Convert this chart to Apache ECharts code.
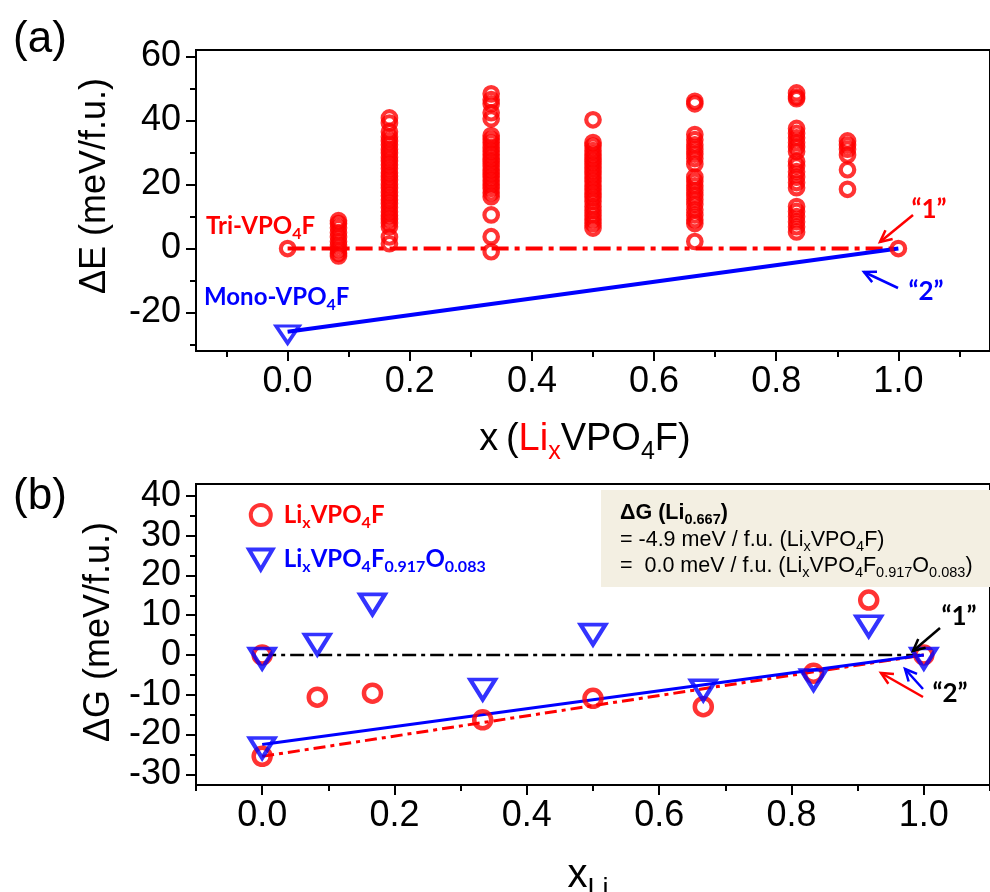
<!DOCTYPE html>
<html>
<head>
<meta charset="utf-8">
<script src="https://cdn.jsdelivr.net/npm/echarts@6/dist/echarts.min.js"></script>
<style>
html,body{margin:0;padding:0;background:#fff;}
#chart{width:990px;height:892px;}
</style>
</head>
<body>
<div id="chart"></div>
<script>
// ---------- Panel (a): ΔE of Tri-VPO4F configurations ----------
const colX = [0, 0.0833, 0.1667, 0.3333, 0.5, 0.6667, 0.8333, 0.9167, 1.0];
const eCol0 = [0];
const eCol1 = [8.7, 7.8, 6.5, 5.0, 3.6, 2.2, 1.0, -0.3, -1.5, -2.3];
const eCol2 = [40.8, 39.2, 36.5, 34.9, 33.6, 32.4, 31.0, 29.8, 28.5, 27.3, 26.2, 25.0, 23.7, 22.6, 21.4, 20.1, 18.9, 17.6, 16.5, 15.2, 14.1, 12.8, 11.5, 10.3, 9.2, 8.0, 6.8, 3.6, 1.5];
const eCol3 = [48.3, 46.5, 45.2, 42.4, 40.5, 35.3, 34.1, 33.0, 31.6, 30.4, 29.3, 28.1, 27.0, 25.8, 24.6, 23.5, 22.3, 21.2, 20.0, 18.8, 17.4, 16.2, 10.5, 3.7, -1.0];
const eCol4 = [40.2, 33.1, 32.0, 30.6, 29.4, 28.2, 27.0, 25.8, 24.5, 23.3, 22.1, 20.9, 19.6, 18.4, 17.2, 16.0, 14.7, 13.1, 11.8, 10.4, 9.1, 7.8, 6.4];
const eCol5 = [46.0, 45.2, 35.6, 34.0, 32.4, 31.0, 29.5, 28.1, 26.4, 22.3, 21.0, 19.6, 18.2, 16.7, 15.3, 13.8, 12.1, 10.5, 9.0, 7.8, 2.2];
const eCol6 = [48.6, 47.3, 46.8, 37.5, 36.0, 34.6, 33.1, 31.7, 30.3, 27.2, 25.8, 24.0, 22.3, 20.6, 19.0, 13.1, 11.6, 10.0, 8.4, 6.8, 5.2];
const eCol7 = [33.6, 32.3, 31.0, 29.2, 24.6, 18.5];
const eCol8 = [0];
const triLineA = [[0, 0], [1.0, 0]];
const monoPointA = [[0, -26]];
const monoLineA = [[0, -26], [1.0, 0]];

// ---------- Panel (b): ΔG ----------
const liX = [0, 0, 0.0833, 0.1667, 0.3333, 0.5, 0.6667, 0.8333, 0.9167, 1.0];
const liG = [0, -25.5, -10.6, -9.6, -16.3, -10.9, -13.0, -4.6, 13.8, 0];
const ofX = [0, 0, 0.0833, 0.1667, 0.3333, 0.5, 0.6667, 0.8333, 0.9167, 1.0];
const ofG = [0, -22.5, 3.5, 13.6, -7.8, 6.0, -8.0, -5.4, 8.1, 0];
const zeroLineB = [[0, 0], [1.0, 0]];
const liHullB = [[0, -25.5], [1.0, 0]];
const ofHullB = [[0, -22.5], [1.0, 0]];

// ---------- Tick values ----------
const xMajorA = [0, 0.2, 0.4, 0.6, 0.8, 1.0];
const xMinorA = [-0.1, 0.1, 0.3, 0.5, 0.7, 0.9, 1.1];
const yMajorA = [-20, 0, 20, 40, 60];
const yMinorA = [-30, -10, 10, 30, 50];
const xMajorB = [0, 0.2, 0.4, 0.6, 0.8, 1.0];
const xMinorB = [-0.1, 0.1, 0.3, 0.5, 0.7, 0.9, 1.1];
const yMajorB = [-30, -20, -10, 0, 10, 20, 30, 40];
const yMinorB = [-25, -15, -5, 5, 15, 25, 35];

const FONT = 'Liberation Sans, Arial, sans-serif';
const BFONT = 'Lato, Open Sans, sans-serif';
const RED = '#ff0000', BLUE = '#0000ff';
const TRI_DOWN = 'path://M0,0L20,0L10,17Z';

function pairs(x, arr) { return arr.map(v => [x, v]); }
const triPtsA = [].concat(
  pairs(colX[0], eCol0), pairs(colX[1], eCol1), pairs(colX[2], eCol2),
  pairs(colX[3], eCol3), pairs(colX[4], eCol4), pairs(colX[5], eCol5),
  pairs(colX[6], eCol6), pairs(colX[7], eCol7), pairs(colX[8], eCol8));
const liPtsB = liX.map((x, i) => [x, liG[i]]);
const ofPtsB = ofX.map((x, i) => [x, ofG[i]]);

const axLine = { show: true, onZero: false, lineStyle: { color: '#000', width: 2 } };
function mainAxis(gridIndex, min, max, majors, pos, fmt, margin) {
  return {
    type: 'value', gridIndex, min, max, position: pos,
    axisLine: axLine,
    axisTick: { show: true, inside: false, length: 10, customValues: majors, lineStyle: { color: '#000', width: 2 } },
    axisLabel: { show: true, customValues: majors, formatter: fmt, margin, color: '#000', fontSize: 36, fontFamily: FONT },
    splitLine: { show: false }
  };
}
function minorAxis(gridIndex, min, max, minors, pos) {
  return {
    type: 'value', gridIndex, min, max, position: pos,
    axisLine: { show: false, onZero: false },
    axisTick: { show: true, inside: false, length: 6, customValues: minors, lineStyle: { color: '#000', width: 2 } },
    axisLabel: { show: false },
    splitLine: { show: false }
  };
}
const fx = v => v.toFixed(1);
const fy = v => String(Math.round(v));

function arrow(x1, y1, x2, y2, color, lw) {
  const ang = Math.atan2(y2 - y1, x2 - x1), L = 13, a = 0.45;
  const p1 = [x2 - L * Math.cos(ang - a), y2 - L * Math.sin(ang - a)];
  const p2 = [x2 - L * Math.cos(ang + a), y2 - L * Math.sin(ang + a)];
  return [
    { type: 'polyline', z: 100, shape: { points: [[x1, y1], [x2, y2]] }, style: { stroke: color, lineWidth: lw, fill: null } },
    { type: 'polyline', z: 100, shape: { points: [p1, [x2, y2], p2] }, style: { stroke: color, lineWidth: lw, fill: null } }
  ];
}
function subRich(color, size, font, weight) {
  return { fill: color, fontSize: size, fontFamily: font, fontWeight: weight, lineHeight: size, verticalAlign: 'bottom' };
}
function mainRich(color, size, font, weight, lh) {
  return { fill: color, fontSize: size, fontFamily: font, fontWeight: weight, lineHeight: lh };
}
function label(x, y, text, rich, align, extra) {
  return Object.assign({ type: 'text', z: 100, x, y, style: { text, rich, align: align || 'left', verticalAlign: 'middle' } }, extra || {});
}

const boldRichRed = { m: mainRich(RED, 24, BFONT, 'bold', 31), s: subRich(RED, 16, BFONT, 'bold') };
const boldRichBlue = { m: mainRich(BLUE, 24, BFONT, 'bold', 31), s: subRich(BLUE, 16, BFONT, 'bold') };
const boxRich = { m: mainRich('#000', 21.5, FONT, 'normal', 28), mb: mainRich('#000', 21.5, FONT, 'bold', 28), s: subRich('#000', 14.5, FONT, 'normal'), sb: subRich('#000', 14.5, FONT, 'bold') };
const titleRich = {
  k: mainRich('#000', 38, FONT, 'normal', 49), r: mainRich(RED, 38, FONT, 'normal', 49),
  ks: subRich('#000', 25, FONT, 'normal'), rs: subRich(RED, 25, FONT, 'normal')
};
const titleRichB = { k: mainRich('#000', 40, FONT, 'normal', 54), ks: subRich('#000', 27, FONT, 'normal') };

const graphics = [].concat(
  [
    { type: 'rect', z: 5, shape: { x: 601, y: 490, width: 400, height: 97 }, style: { fill: '#f3efe2' } },
    label(40, 40, '{k|(a)}', { k: mainRich('#000', 44, FONT, 'normal', 50) }, 'center'),
    label(40, 497, '{k|(b)}', { k: mainRich('#000', 44, FONT, 'normal', 50) }, 'center'),
    label(95, 186, '{k|ΔE (meV/f.u.)}', { k: mainRich('#000', 36, FONT, 'normal', 40) }, 'center', { rotation: Math.PI / 2 }),
    label(99, 632, '{k|ΔG (meV/f.u.)}', { k: mainRich('#000', 36, FONT, 'normal', 40) }, 'center', { rotation: Math.PI / 2 }),
    label(585, 440, '{k|x\u2009(}{r|Li}{rs|x}{k|VPO}{ks|4}{k|F)}', titleRich, 'center'),
    label(588, 876, '{k|x}{ks|Li}', titleRichB, 'center'),
    label(206, 226, '{m|Tri-VPO}{s|4}{m|F}', boldRichRed, 'left'),
    label(204, 297, '{m|Mono-VPO}{s|4}{m|F}', boldRichBlue, 'left'),
    label(929, 210, '{m|\u201c1\u201d}', { m: mainRich(RED, 26, BFONT, 'bold', 30) }, 'center'),
    label(926, 292, '{m|\u201c2\u201d}', { m: mainRich(BLUE, 26, BFONT, 'bold', 30) }, 'center'),
    label(959, 617, '{m|\u201c1\u201d}', { m: mainRich('#000', 26, BFONT, 'bold', 30) }, 'center'),
    label(950, 694, '{m|\u201c2\u201d}', { m: mainRich('#000', 26, BFONT, 'bold', 30) }, 'center'),
    label(620, 513, '{mb|ΔG (Li}{sb|0.667}{mb|)}', boxRich, 'left'),
    label(620, 540, '{m|= -4.9 meV / f.u. (Li}{s|x}{m|VPO}{s|4}{m|F)}', boxRich, 'left'),
    label(620, 566, '{m|=  0.0 meV / f.u. (Li}{s|x}{m|VPO}{s|4}{m|F}{s|0.917}{m|O}{s|0.083}{m|)}', boxRich, 'left')
  ],
  arrow(913, 215, 880, 242, RED, 2.5),
  arrow(898, 288, 864, 272, BLUE, 2.5),
  arrow(940, 628, 913, 651, '#000', 2.5),
  arrow(923, 689, 905, 669, BLUE, 2.5),
  arrow(923, 697, 881, 673, RED, 2.5)
);

const option = {
  animation: false,
  backgroundColor: '#fff',
  grid: [
    { left: 196, top: 50, width: 808.6, height: 301, show: true, borderColor: '#000', borderWidth: 2, containLabel: false },
    { left: 196, top: 484, width: 807.6, height: 301, show: true, borderColor: '#000', borderWidth: 2, containLabel: false }
  ],
  xAxis: [
    mainAxis(0, -0.15, 1.15, xMajorA, 'bottom', fx, 13),
    minorAxis(0, -0.15, 1.15, xMinorA, 'bottom'),
    mainAxis(1, -0.1, 1.1, xMajorB, 'bottom', fx, 13),
    minorAxis(1, -0.1, 1.1, xMinorB, 'bottom')
  ],
  yAxis: [
    mainAxis(0, -32, 62, yMajorA, 'left', fy, 15),
    minorAxis(0, -32, 62, yMinorA, 'left'),
    mainAxis(1, -32.7, 43, yMajorB, 'left', fy, 15),
    minorAxis(1, -32.7, 43, yMinorB, 'left')
  ],
  legend: {
    show: true, orient: 'vertical', left: 242, top: 498, itemWidth: 26, itemHeight: 20, itemGap: 17,
    selectedMode: false,
    itemStyle: { borderWidth: 4 },
    data: ['LixVPO4F', 'LixVPO4F0.917O0.083'],
    formatter: function (name) {
      return name === 'LixVPO4F'
        ? '{r|Li}{rs|x}{r|VPO}{rs|4}{r|F}'
        : '{b|Li}{bs|x}{b|VPO}{bs|4}{b|F}{bs|0.917}{b|O}{bs|0.083}';
    },
    textStyle: {
      padding: [0, 0, 0, 5],
      rich: {
        r: { color: RED, fontFamily: BFONT, fontWeight: 'bold', fontSize: 24, lineHeight: 31 },
        rs: { color: RED, fontFamily: BFONT, fontWeight: 'bold', fontSize: 16, lineHeight: 16, verticalAlign: 'bottom' },
        b: { color: BLUE, fontFamily: BFONT, fontWeight: 'bold', fontSize: 24, lineHeight: 31 },
        bs: { color: BLUE, fontFamily: BFONT, fontWeight: 'bold', fontSize: 16, lineHeight: 16, verticalAlign: 'bottom' }
      }
    }
  },
  graphic: graphics,
  series: [
    { name: 'triLine', type: 'line', xAxisIndex: 0, yAxisIndex: 0, data: triLineA, symbol: 'none', z: 2,
      lineStyle: { color: RED, width: 4, type: [17, 6, 5, 6] } },
    { name: 'monoLine', type: 'line', xAxisIndex: 0, yAxisIndex: 0, data: monoLineA, symbol: 'none', z: 2,
      lineStyle: { color: BLUE, width: 4 } },
    { name: 'Tri-VPO4F', type: 'scatter', xAxisIndex: 0, yAxisIndex: 0, data: triPtsA, symbol: 'circle', symbolSize: 13.5, z: 3,
      itemStyle: { color: 'rgba(0,0,0,0)', borderColor: RED, borderWidth: 4.2 } },
    { name: 'Mono-VPO4F', type: 'scatter', xAxisIndex: 0, yAxisIndex: 0, data: monoPointA, symbol: TRI_DOWN, symbolSize: [23, 17], symbolOffset: [0, 2.8], z: 4,
      itemStyle: { color: 'rgba(0,0,0,0)', borderColor: BLUE, borderWidth: 3.5 } },

    { name: 'zeroLine', type: 'line', xAxisIndex: 2, yAxisIndex: 2, data: zeroLineB, symbol: 'none', z: 2,
      lineStyle: { color: '#000', width: 2.5, type: [14, 5, 4, 5] } },
    { name: 'liHull', type: 'line', xAxisIndex: 2, yAxisIndex: 2, data: liHullB, symbol: 'none', z: 2,
      lineStyle: { color: RED, width: 3, type: [12, 5, 4, 5] } },
    { name: 'ofHull', type: 'line', xAxisIndex: 2, yAxisIndex: 2, data: ofHullB, symbol: 'none', z: 2,
      lineStyle: { color: BLUE, width: 3 } },
    { name: 'LixVPO4F', type: 'scatter', xAxisIndex: 2, yAxisIndex: 2, data: liPtsB, symbol: 'circle', symbolSize: 17, z: 3,
      itemStyle: { color: 'rgba(0,0,0,0)', borderColor: RED, borderWidth: 4.5 } },
    { name: 'LixVPO4F0.917O0.083', type: 'scatter', xAxisIndex: 2, yAxisIndex: 2, data: ofPtsB, symbol: TRI_DOWN, symbolSize: [25, 20], symbolOffset: [0, 3.5], z: 4,
      itemStyle: { color: 'rgba(0,0,0,0)', borderColor: BLUE, borderWidth: 4 } }
  ]
};

const chart = echarts.init(document.getElementById('chart'), null, { renderer: 'canvas', width: 990, height: 892 });
chart.setOption(option);
</script>
</body>
</html>
